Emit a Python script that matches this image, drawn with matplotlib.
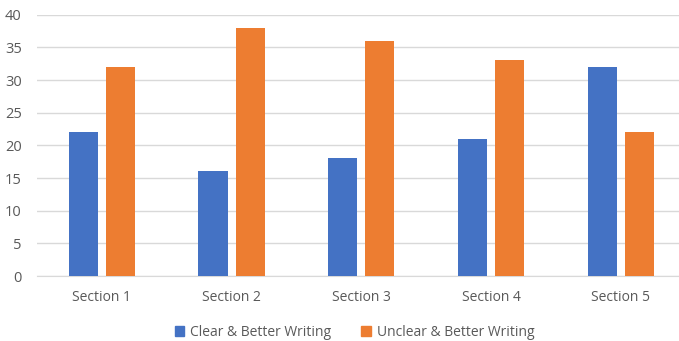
import matplotlib.pyplot as plt
import numpy as np
from matplotlib.patches import Patch

sections = ['Section 1', 'Section 2', 'Section 3', 'Section 4', 'Section 5']
clear_better = [22, 16, 18, 21, 32]
unclear_better = [32, 38, 36, 33, 22]

BLUE = '#4472C4'
ORANGE = '#ED7D31'
TXT = '#595959'

plt.rcParams['font.family'] = ['Open Sans', 'DejaVu Sans']

fig = plt.figure(figsize=(6.79, 3.41), dpi=100)
ax = fig.add_axes([37 / 679, 1 - 276 / 341, 642 / 679, (276 - 14.7) / 341])

x = np.arange(len(sections))
w = 0.224
off = w / 2 + 0.031
ax.bar(x - off, clear_better, w, color=BLUE, zorder=3)
ax.bar(x + off, unclear_better, w, color=ORANGE, zorder=3)

ax.set_xlim(-0.5, 4.45)
ax.set_ylim(0, 40)
ax.set_yticks(range(0, 41, 5))
ax.set_xticks(x)
ax.set_xticklabels(sections)
ax.yaxis.grid(True, color='#D9D9D9', linewidth=1, zorder=0)
for s in ['top', 'right', 'left']:
    ax.spines[s].set_visible(False)
ax.spines['bottom'].set_color('#D9D9D9')
ax.tick_params(axis='both', length=0, labelsize=10, labelcolor=TXT)
ax.tick_params(axis='y', labelsize=10.5, pad=11)
ax.tick_params(axis='x', pad=10)

handles = [Patch(color=BLUE, label='Clear & Better Writing'),
           Patch(color=ORANGE, label='Unclear & Better Writing')]
fig.legend(handles=handles, loc='center', bbox_to_anchor=(0.522, 1 - 332 / 341),
           ncol=2, frameon=False, fontsize=10, labelcolor=TXT,
           handlelength=0.7, handleheight=0.7, handletextpad=0.4, columnspacing=2.2)

fig.savefig('out.png', dpi=100)
